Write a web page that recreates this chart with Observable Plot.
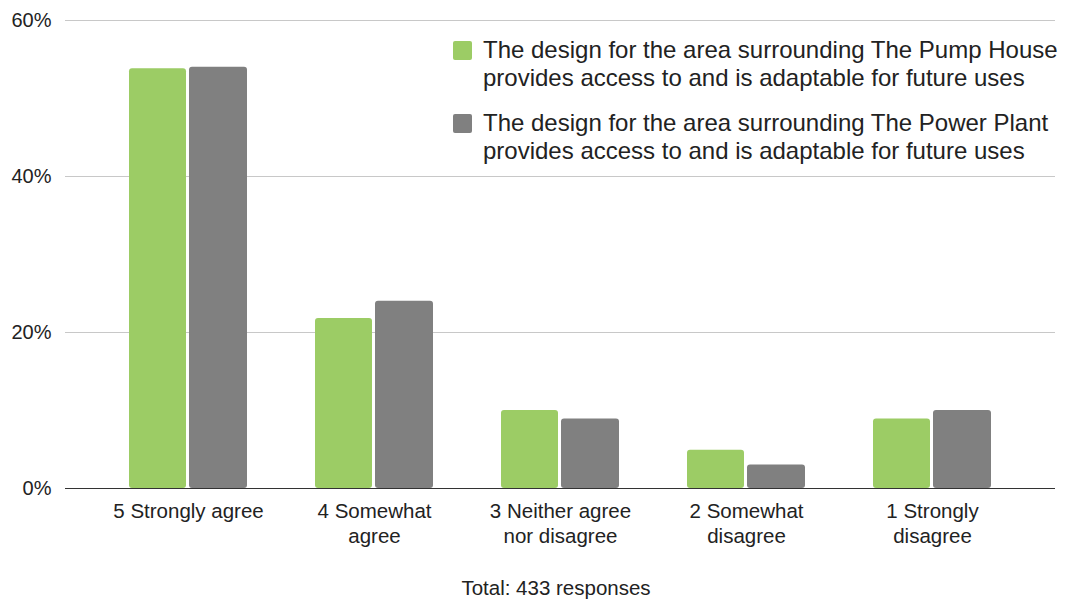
<!DOCTYPE html>
<html>
<head>
<meta charset="utf-8">
<script src="https://cdn.jsdelivr.net/npm/d3@7"></script>
<script src="https://cdn.jsdelivr.net/npm/@observablehq/plot@0.6"></script>
<style>
  html, body { margin: 0; padding: 0; background: #fff; overflow: hidden; }
  body { font-family: "Liberation Sans", Arial, sans-serif; color: #222; }
  #wrap { position: relative; width: 1065px; height: 600px; }
  #legend { position: absolute; left: 453px; top: 36px; font-size: 24px; line-height: 28px; color: #222; }
  .item { position: relative; padding-left: 30px; }
  .item + .item { margin-top: 17px; }
  .sw { position: absolute; left: 0; top: 5px; width: 19px; height: 19px; border-radius: 2px; }
  #caption { position: absolute; left: 356px; width: 400px; top: 576px; text-align: center; font-size: 20.5px; line-height: 24px; color: #222; }
</style>
</head>
<body>
<div id="wrap">
  <div id="chart"></div>
  <div id="legend"></div>
  <div id="caption"></div>
</div>
<script>
const categories = ["5 Strongly agree", "4 Somewhat agree", "3 Neither agree nor disagree", "2 Somewhat disagree", "1 Strongly disagree"];
const tickLabels = ["5 Strongly agree", "4 Somewhat\nagree", "3 Neither agree\nnor disagree", "2 Somewhat\ndisagree", "1 Strongly\ndisagree"];
const seriesNames = [
  "The design for the area surrounding The Pump House provides access to and is adaptable for future uses",
  "The design for the area surrounding The Power Plant provides access to and is adaptable for future uses"
];
const legendLines = [
  ["The design for the area surrounding The Pump House", "provides access to and is adaptable for future uses"],
  ["The design for the area surrounding The Power Plant", "provides access to and is adaptable for future uses"]
];
const pumpHouse = [53.8, 21.8, 10.0, 4.9, 8.9];
const powerPlant = [54.0, 24.0, 8.9, 3.0, 10.0];
const yTicks = [0, 20, 40, 60];
const colors = ["#9ccc65", "#808080"];
const captionText = "Total: 433 responses";

const rowsA = categories.map((c, i) => ({category: c, value: pumpHouse[i]}));
const rowsB = categories.map((c, i) => ({category: c, value: powerPlant[i]}));

const chart = Plot.plot({
  width: 1065,
  height: 560,
  marginTop: 20,
  marginBottom: 72,
  marginLeft: 65,
  marginRight: 10,
  style: {fontFamily: "'Liberation Sans', Arial, sans-serif", fontSize: "20px", color: "#222", background: "#fff"},
  x: {domain: categories, paddingInner: 0.366, paddingOuter: 0.344},
  y: {domain: [0, 60]},
  marks: [
    Plot.gridY(yTicks.filter(d => d > 0), {stroke: "#c8c8c8", strokeOpacity: 1}),
    Plot.axisY({ticks: yTicks, tickSize: 0, tickPadding: 14, tickFormat: d => d + "%", label: null, fontSize: 20}),
    Plot.barY(rowsA, {x: "category", y: "value", fill: colors[0], insetRight: 61, rx: 3}),
    Plot.barY(rowsB, {x: "category", y: "value", fill: colors[1], insetLeft: 60, rx: 3}),
    Plot.ruleY([0], {stroke: "#333", strokeWidth: 1.2}),
    Plot.axisX({tickSize: 0, tickPadding: 12, label: null, fontSize: 20.5, lineHeight: 1.2,
      tickFormat: d => tickLabels[categories.indexOf(d)]})
  ]
});
document.getElementById("chart").appendChild(chart);

const legend = document.getElementById("legend");
seriesNames.forEach((name, i) => {
  const item = document.createElement("div");
  item.className = "item";
  item.title = name;
  const sw = document.createElement("span");
  sw.className = "sw";
  sw.style.background = colors[i];
  item.appendChild(sw);
  legendLines[i].forEach(line => {
    const d = document.createElement("div");
    d.textContent = line;
    item.appendChild(d);
  });
  legend.appendChild(item);
});
document.getElementById("caption").textContent = captionText;
</script>
</body>
</html>
